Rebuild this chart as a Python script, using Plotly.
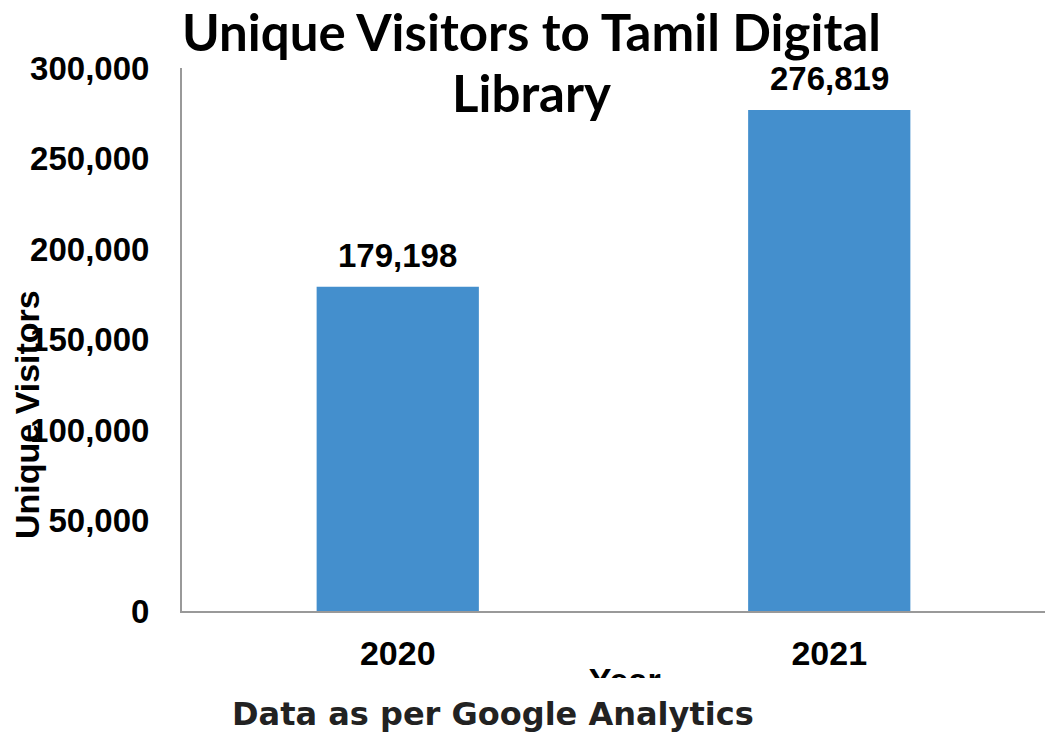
import plotly.graph_objects as go

years = ["2020", "2021"]
visitors = [179198, 276819]
y_ticks = [0, 50000, 100000, 150000, 200000, 250000, 300000]
y_tick_text = ["0", "50,000", "100,000", "150,000", "200,000", "250,000", "300,000"]

BAR = "#448FCD"
AX = "Liberation Sans, Arial, sans-serif"
TITLE_FONT = "Lato, Liberation Sans, sans-serif"

W, H = 1045, 733
L, R = 182, 0
TOP = 68          # top of plot area (px)
AXIS_Y = 611      # x-axis line (px)
BOT = 690         # bottom of whole subplot area (px)
PH = BOT - TOP
PW = W - L - R


def py(p):
    return (BOT - p) / PH


def px(p):
    return (p - L) / PW


fig = go.Figure()
fig.add_trace(go.Bar(x=years, y=visitors, marker=dict(color=BAR, line=dict(width=0)),
                     width=0.376, showlegend=False, hoverinfo="skip"))

# "Year" axis title, clipped as in the reference
fig.add_trace(go.Scatter(x=[0.513], y=[1.0], mode="text", text=["<b>Year</b>"],
                         textposition="bottom center", cliponaxis=True,
                         textfont=dict(family=AX, size=34, color="#000"),
                         xaxis="x2", yaxis="y2", showlegend=False, hoverinfo="skip"))

annotations = []
# value labels: category axis positions are indices
for i, v in enumerate(visitors):
    annotations.append(dict(x=i, y=v, xref="x", yref="y", text=f"<b>{v:,}</b>", showarrow=False,
                            yanchor="bottom", yshift=12, borderpad=0,
                            font=dict(family=AX, size=33, color="#000")))
annotations.append(dict(x=px(27), y=py(415), xref="paper", yref="paper", text="<b>Unique Visitors</b>",
                        textangle=-90, showarrow=False, xanchor="center", yanchor="middle",
                        font=dict(family=AX, size=34, color="#000")))
annotations.append(dict(x=px(493), y=py(714), xref="paper", yref="paper",
                        text="<b>Data as per Google Analytics</b>",
                        showarrow=False, xanchor="center", yanchor="middle",
                        font=dict(family="DejaVu Sans, Verdana, sans-serif", size=32, color="#222")))
annotations.append(dict(x=px(531), y=py(0), xref="paper", yref="paper",
                        text="<b>Unique Visitors to Tamil Digital</b>",
                        showarrow=False, xanchor="center", yanchor="top", borderpad=0,
                        font=dict(family=TITLE_FONT, size=51, color="#000")))
annotations.append(dict(x=px(531), y=py(92.5), xref="paper", yref="paper",
                        text="<b>Library</b>",
                        showarrow=False, xanchor="center", yanchor="middle",
                        font=dict(family=TITLE_FONT, size=51, color="#000")))

fig.update_layout(
    width=W, height=H,
    margin=dict(l=L, r=R, t=TOP, b=H - BOT),
    paper_bgcolor="white", plot_bgcolor="rgba(0,0,0,0)",
    xaxis=dict(type="category", range=[-0.5, 1.5], showline=True, linecolor="#999", linewidth=2,
               showgrid=False, ticks="", ticklabelstandoff=11, zeroline=False, anchor="y",
               tickfont=dict(family=AX, size=34, color="#000"), tickprefix="<b>", ticksuffix="</b>"),
    yaxis=dict(domain=[py(AXIS_Y), 1], range=[0, 300000], tickvals=y_ticks,
               ticktext=[f"<b>{t}</b>" for t in y_tick_text], showline=True,
               linecolor="#999", linewidth=2, showgrid=False, zeroline=False, ticks="",
               ticklabelstandoff=24, tickfont=dict(family=AX, size=33, color="#000")),
    xaxis2=dict(domain=[0, 1], range=[0, 1], visible=False, anchor="y2"),
    yaxis2=dict(domain=[py(678), py(666)], range=[0, 1], visible=False, anchor="x2"),
    annotations=annotations,
)

fig.write_html("out.html", config={"displayModeBar": False},
               post_script="document.body.style.margin='0';")
